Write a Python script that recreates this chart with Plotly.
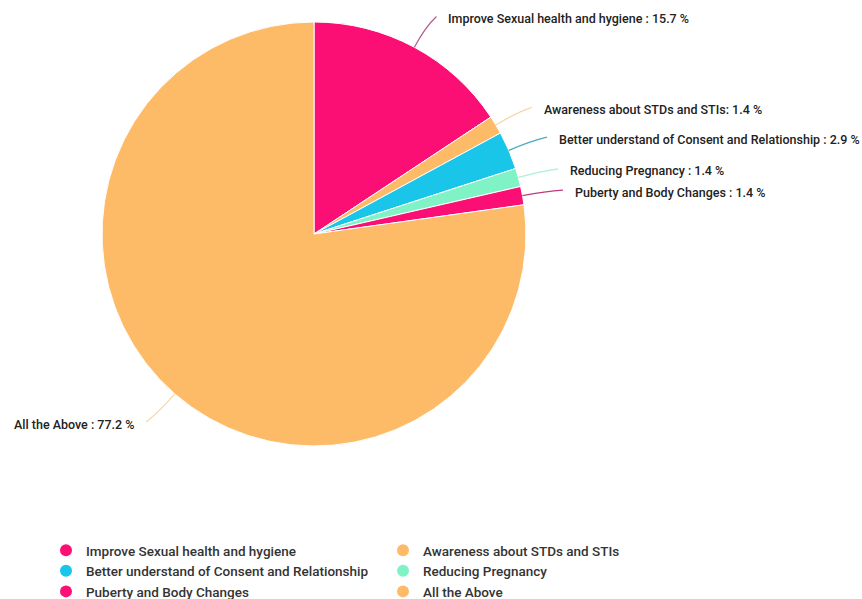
import math
import plotly.graph_objects as go

categories = [
    "Improve Sexual health and hygiene",
    "Awareness about STDs and STIs",
    "Better understand of Consent and Relationship",
    "Reducing Pregnancy",
    "Puberty and Body Changes",
    "All the Above",
]
values = [15.7, 1.4, 2.9, 1.4, 1.4, 77.2]
label_seps = [" : ", ": ", " : ", " : ", " : ", " : "]
colors = ["#FC0F75", "#FDBB68", "#19C6EA", "#80F3C6", "#FC0F75", "#FDBB68"]
line_colors = ["#B05A8C", "#F3D9A8", "#49A9BE", "#A8F0D6", "#C0387E", "#F3D9A8"]

W, H = 862, 599
CX, CY, R = 314, 234, 212

fig = go.Figure()
fig.add_trace(go.Pie(
    labels=categories, values=values, sort=False, direction="clockwise",
    rotation=0, marker=dict(colors=colors, line=dict(color="white", width=1)),
    textinfo="none", showlegend=False,
    domain=dict(x=[(CX - R) / W, (CX + R) / W], y=[1 - (CY + R) / H, 1 - (CY - R) / H]),
))

# legend entries with round markers
for name, c in zip(categories, colors):
    fig.add_trace(go.Scatter(x=[None], y=[None], mode="markers", name=name,
                             marker=dict(color=c, size=12, symbol="circle")))

total = sum(values)
cum = 0.0
shapes, annotations = [], []
for name, v, sep, lc in zip(categories, values, label_seps, line_colors):
    mid = (cum + v / 2) / total * 2 * math.pi
    cum += v
    s, c = math.sin(mid), math.cos(mid)
    side = 1 if s >= 0 else -1
    p0 = (CX + R * s, CY - R * c)
    p1 = (CX + 1.11 * R * s, CY - 1.11 * R * c)
    p2 = (CX + 1.17 * R * s + side * 5, CY - 1.17 * R * c + 1)
    def P(p):
        return f"{p[0] / W:.5f},{1 - p[1] / H:.5f}"
    shapes.append(dict(type="path", xref="paper", yref="paper",
                       path=f"M {P(p0)} Q {P(p1)} {P(p2)}",
                       line=dict(color=lc, width=1.2)))
    pct = round(v / total * 100, 1)
    annotations.append(dict(
        xref="paper", yref="paper", showarrow=False,
        x=(p2[0] + side * 10) / W, y=1 - (p2[1] + 2) / H,
        xanchor="left" if side > 0 else "right", yanchor="middle",
        text=f"{name}{sep}{pct} %",
        font=dict(family="Roboto", size=12.5, color="#222", weight=500),
    ))

fig.update_layout(
    width=W, height=H, margin=dict(l=0, r=0, t=0, b=0, autoexpand=False),
    paper_bgcolor="white", plot_bgcolor="white",
    xaxis=dict(visible=False), yaxis=dict(visible=False),
    shapes=shapes, annotations=annotations,
    legend=dict(orientation="h", x=46 / W, y=-8 / H, xanchor="left", yanchor="bottom",
                entrywidth=292, entrywidthmode="pixels", tracegroupgap=0,
                font=dict(family="Roboto", size=13.5, color="#333", weight=500),
                itemsizing="trace"),
)
fig.write_html("out.html")
